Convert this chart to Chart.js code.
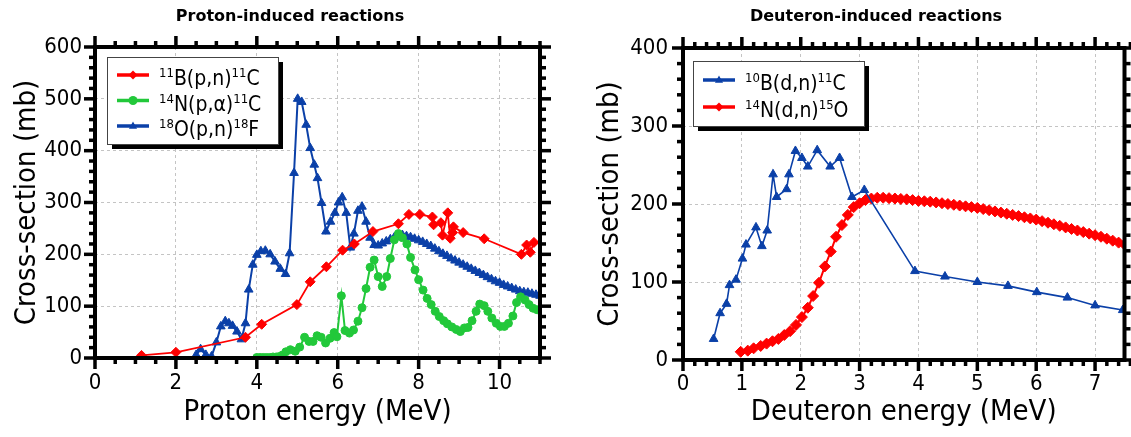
<!DOCTYPE html>
<html>
<head>
<meta charset="utf-8">
<script src="https://cdn.jsdelivr.net/npm/chart.js@4/dist/chart.umd.min.js"></script>
<style>
  body { margin: 0; background: #fff; }
  #wrap { position: relative; width: 1131px; height: 437px; overflow: hidden; }
  canvas { position: absolute; top: 0; }
  #protonChart { left: 0; }
  #deuteronChart { left: 566px; }
</style>
</head>
<body>
<div id="wrap">
  <canvas id="protonChart" width="566" height="437"></canvas>
  <canvas id="deuteronChart" width="565" height="437"></canvas>
</div>
<script>
// ---- proton-induced reactions (energy in MeV, cross-section in mb) ----
var bpnEnergy = [1.15, 2.0, 3.72, 4.12, 4.99, 5.32, 5.72, 6.12, 6.41, 6.87, 7.5, 7.76, 8.03, 8.34, 8.37, 8.55, 8.59, 8.72, 8.78, 8.84, 8.86, 9.1, 9.62, 10.54, 10.67, 10.76, 10.85, 11.05];
var bpnXs = [5, 11, 40, 65, 103, 147, 176, 208, 220, 244, 259, 277, 277, 272, 257, 261, 237, 280, 231, 242, 253, 242, 230, 200, 218, 204, 223, 223];

var npaEnergy = [4.0, 4.08, 4.16, 4.24, 4.32, 4.4, 4.48, 4.56, 4.64, 4.72, 4.83, 4.95, 5.06, 5.18, 5.29, 5.39, 5.49, 5.59, 5.7, 5.81, 5.91, 5.98, 6.09, 6.18, 6.29, 6.39, 6.5, 6.6, 6.7, 6.8, 6.9, 7.0, 7.1, 7.21, 7.3, 7.4, 7.5, 7.6, 7.71, 7.8, 7.91, 8.0, 8.11, 8.21, 8.31, 8.41, 8.51, 8.62, 8.71, 8.82, 8.93, 9.03, 9.13, 9.22, 9.32, 9.42, 9.51, 9.62, 9.71, 9.81, 9.92, 10.02, 10.12, 10.22, 10.33, 10.42, 10.52, 10.63, 10.73, 10.83, 10.93, 11.03];
var npaXs = [1, 1, 1, 1, 1, 2, 2, 3, 6, 12, 16, 13, 21, 40, 32, 32, 43, 40, 29, 38, 49, 41, 120, 53, 48, 54, 71, 97, 134, 175, 189, 157, 138, 157, 192, 228, 240, 232, 220, 194, 170, 151, 131, 115, 103, 90, 80, 72, 66, 60, 55, 51, 58, 59, 72, 90, 104, 101, 90, 77, 67, 61, 61, 67, 81, 107, 118, 112, 103, 96, 93, 93];

var opnEnergy = [2.5, 2.61, 2.74, 2.88, 3.0, 3.11, 3.22, 3.31, 3.4, 3.51, 3.62, 3.72, 3.8, 3.9, 4.0, 4.1, 4.21, 4.33, 4.45, 4.58, 4.71, 4.81, 4.92, 5.01, 5.11, 5.22, 5.32, 5.42, 5.5, 5.6, 5.71, 5.82, 5.93, 6.02, 6.11, 6.21, 6.31, 6.4, 6.5, 6.6, 6.7, 6.8, 6.9,
  7.0, 7.1, 7.2, 7.3, 7.4, 7.5, 7.6, 7.7, 7.8, 7.9, 8.0, 8.1, 8.2, 8.3, 8.4, 8.5, 8.6, 8.7, 8.8, 8.9, 9.0, 9.1, 9.2, 9.3, 9.4, 9.5, 9.6, 9.7, 9.8, 9.9, 10.0, 10.1, 10.2, 10.3, 10.4, 10.5, 10.6, 10.7, 10.8, 10.9, 11.0];
var opnXs = [6, 17, 6, 3, 30, 61, 71, 67, 62, 51, 36, 67, 132, 180, 199, 206, 207, 200, 186, 172, 162, 202, 357, 500, 494, 450, 405, 373, 347, 299, 244, 263, 280, 300, 310, 280, 213, 240, 284, 292, 263, 232, 218,
  217, 221, 225, 229, 233, 236, 237, 235, 233, 230, 227, 224, 220, 216, 211, 206, 201, 197, 192, 188, 184, 180, 176, 172, 168, 164, 160, 156, 152, 148, 145, 141, 138, 135, 132, 129, 127, 126, 124, 122, 120];

// ---- deuteron-induced reactions ----
var bdnEnergy = [0.52, 0.63, 0.74, 0.79, 0.9, 1.01, 1.07, 1.24, 1.34, 1.43, 1.53, 1.59, 1.76, 1.8, 1.91, 2.02, 2.12, 2.28, 2.5, 2.66, 2.87, 3.08, 3.94, 4.45, 5.0, 5.52, 6.01, 6.53, 7.0, 7.47];
var bdnXs = [27, 60, 72, 96, 103, 130, 148, 170, 146, 166, 238, 209, 219, 238, 268, 259, 248, 269, 248, 259, 209, 218, 114, 107, 100, 95, 87, 80, 70, 64];

var ndnEnergy = [0.98, 1.1, 1.2, 1.32, 1.42, 1.52, 1.62, 1.72, 1.82, 1.92, 2.02, 2.12, 2.21, 2.31, 2.41, 2.51, 2.6, 2.7, 2.8, 2.9, 3.0, 3.1, 3.2, 3.3,
  3.4, 3.5, 3.6, 3.7, 3.8, 3.9, 4.0, 4.1, 4.2, 4.3, 4.4, 4.5, 4.6, 4.7, 4.8, 4.9, 5.0, 5.1, 5.2, 5.3, 5.4, 5.5, 5.6, 5.7, 5.8, 5.9, 6.0, 6.1, 6.2, 6.3, 6.4, 6.5, 6.6, 6.7, 6.8, 6.9, 7.0, 7.1, 7.2, 7.3, 7.4, 7.5];
var ndnXs = [10.5, 12, 15, 18, 21, 24, 27, 32, 37, 45, 55, 67, 82, 99, 120, 139, 158, 173, 186, 196, 201, 205, 207, 208,
  208, 207.5, 207, 206.5, 206, 205, 204, 203.5, 203, 202, 201, 200, 199, 198, 197, 196, 195, 193.5, 192, 190.5, 189, 187.5, 186, 184.5, 183, 181.5, 180, 178, 176, 174, 172, 170, 168, 166, 164, 162, 160, 158, 155.5, 153, 150.5, 148];

const FONT = '"DejaVu Sans Condensed", "DejaVu Sans", sans-serif';
const RED = '#ff0000';
const GREEN = '#22c83a';
const BLUE = '#0b40a8';

function pairs(xs, ys) {
    return xs.map((x, i) => ({ x: x, y: ys[i] }));
}

function series(label, xs, ys, color, style, radius, width) {
    return {
        label: label,
        data: pairs(xs, ys),
        showLine: true,
        borderColor: color,
        backgroundColor: color,
        borderWidth: width,
        pointStyle: style,
        pointRadius: radius,
        pointBorderWidth: 1,
        tension: 0
    };
}

// draws '^{11}B(p,n)^{11}C' style labels with raised mass numbers
function drawRichLabel(ctx, text, x, y, size) {
    const parts = text.split(/(\^\{[^}]*\})/).filter(Boolean);
    parts.forEach(p => {
        if (p[0] === '^') {
            const s = p.slice(2, -1);
            ctx.font = Math.round(size * 0.62) + 'px ' + FONT;
            ctx.fillText(s, x, y - size * 0.36);
            x += ctx.measureText(s).width;
        } else {
            ctx.font = size + 'px ' + FONT;
            ctx.fillText(p, x, y);
            x += ctx.measureText(p).width;
        }
    });
}

function drawMarker(ctx, style, x, y, r) {
    ctx.beginPath();
    if (style === 'rectRot') {
        ctx.moveTo(x, y - r); ctx.lineTo(x + r, y); ctx.lineTo(x, y + r); ctx.lineTo(x - r, y);
    } else if (style === 'triangle') {
        ctx.moveTo(x, y - r); ctx.lineTo(x + r * 0.9, y + r * 0.6); ctx.lineTo(x - r * 0.9, y + r * 0.6);
    } else {
        ctx.arc(x, y, r, 0, Math.PI * 2);
    }
    ctx.closePath();
    ctx.fill();
}

// thick frame with outward ticks on all four sides, title and boxed legend
const framePlugin = {
    id: 'frame',
    afterDraw(chart, args, opts) {
        const ctx = chart.ctx;
        const a = chart.chartArea;
        const xs = chart.scales.x, ys = chart.scales.y;
        ctx.save();
        ctx.fillStyle = '#000';

        const ticks = (scale, step, major, horizontal) => {
            const n = Math.round((scale.max - scale.min) / step);
            for (let i = 0; i <= n; i++) {
                const v = scale.min + i * step;
                const isMajor = Math.abs(v / major - Math.round(v / major)) < 1e-6;
                const len = isMajor ? 11 : 6;
                const w = 3.5;
                const p = scale.getPixelForValue(v);
                if (horizontal) {
                    ctx.fillRect(p - w / 2, a.bottom, w, len);
                    ctx.fillRect(p - w / 2, a.top - len, w, len);
                } else {
                    ctx.fillRect(a.left - len, p - w / 2, len, w);
                    ctx.fillRect(a.right, p - w / 2, len, w);
                }
            }
        };
        ticks(xs, opts.xMinor, opts.xMajor, true);
        ticks(ys, opts.yMinor, opts.yMajor, false);

        ctx.strokeStyle = '#000';
        ctx.lineWidth = 4;
        ctx.strokeRect(a.left, a.top, a.right - a.left, a.bottom - a.top);

        // title
        ctx.font = 'bold 16px "DejaVu Sans", sans-serif';
        ctx.textAlign = 'center';
        ctx.textBaseline = 'middle';
        ctx.fillText(opts.title, opts.titleX, opts.titleY);

        // legend with drop shadow
        const L = opts.legend;
        ctx.fillStyle = '#000';
        ctx.fillRect(L.x + 5, L.y + 5, L.w, L.h);
        ctx.fillStyle = '#fff';
        ctx.fillRect(L.x, L.y, L.w, L.h);
        ctx.strokeStyle = '#444';
        ctx.lineWidth = 1;
        ctx.strokeRect(L.x + 0.5, L.y + 0.5, L.w, L.h);
        ctx.textAlign = 'left';
        ctx.textBaseline = 'alphabetic';
        chart.data.datasets.forEach((ds, i) => {
            const ry = L.y + L.firstRow + i * L.rowGap;
            ctx.strokeStyle = ds.borderColor;
            ctx.lineWidth = 3.5;
            ctx.beginPath();
            ctx.moveTo(L.x + 10, ry);
            ctx.lineTo(L.x + 42, ry);
            ctx.stroke();
            ctx.fillStyle = ds.borderColor;
            drawMarker(ctx, ds.pointStyle, L.x + 26, ry, 4.5);
            ctx.fillStyle = '#000';
            drawRichLabel(ctx, ds.label, L.x + 52, ry + 10, 21);
        });
        ctx.restore();
    }
};

function makeOptions(cfg) {
    return {
        responsive: false,
        animation: false,
        devicePixelRatio: 1,
        layout: { padding: { top: cfg.top, right: cfg.right, left: 0, bottom: 0 } },
        plugins: {
            legend: { display: false },
            tooltip: { enabled: false },
            frame: cfg.frame
        },
        scales: {
            x: {
                type: 'linear',
                min: 0,
                max: cfg.xMax,
                afterFit: s => { s.height = cfg.xAxisH; },
                ticks: { stepSize: cfg.frame.xMajor, includeBounds: false, padding: cfg.xPad, color: '#000', font: { family: FONT, size: 22 } },
                grid: { color: '#c4c4c4', drawTicks: false },
                border: { display: false, dash: [3, 3] },
                title: { display: true, text: cfg.xTitle, color: '#000', font: { family: FONT, size: 29 }, padding: { top: 0, bottom: 7 } }
            },
            y: {
                type: 'linear',
                min: 0,
                max: cfg.yMax,
                afterFit: s => { s.width = cfg.yAxisW; },
                ticks: { stepSize: cfg.frame.yMajor, includeBounds: false, padding: cfg.yPad, color: '#000', font: { family: FONT, size: 22 } },
                grid: { color: '#c4c4c4', drawTicks: false },
                border: { display: false, dash: [3, 3] },
                title: { display: true, text: 'Cross-section (mb)', color: '#000', font: { family: FONT, size: 29 }, padding: { top: cfg.yTitlePad, bottom: 0 } }
            }
        }
    };
}

new Chart(document.getElementById('protonChart'), {
    type: 'scatter',
    data: {
        datasets: [
            series('^{11}B(p,n)^{11}C', bpnEnergy, bpnXs, RED, 'rectRot', 5, 1.8),
            series('^{14}N(p,\u03b1)^{11}C', npaEnergy, npaXs, GREEN, 'circle', 4, 2),
            series('^{18}O(p,n)^{18}F', opnEnergy, opnXs, BLUE, 'triangle', 5, 2)
        ]
    },
    options: makeOptions({
        top: 47, right: 26, xMax: 11, yMax: 600, xAxisH: 79, yAxisW: 95,
        xPad: 12, yPad: 13, yTitlePad: 10,
        xTitle: 'Proton energy (MeV)',
        frame: {
            xMajor: 2, xMinor: 0.5, yMajor: 100, yMinor: 20,
            title: 'Proton-induced reactions', titleX: 290, titleY: 17,
            legend: { x: 107, y: 57, w: 171, h: 87, firstRow: 18, rowGap: 25.5 }
        }
    }),
    plugins: [framePlugin]
});

new Chart(document.getElementById('deuteronChart'), {
    type: 'scatter',
    data: {
        datasets: [
            series('^{10}B(d,n)^{11}C', bdnEnergy, bdnXs, BLUE, 'triangle', 5, 1.6),
            series('^{14}N(d,n)^{15}O', ndnEnergy, ndnXs, RED, 'rectRot', 5.5, 2)
        ]
    },
    options: makeOptions({
        top: 48, right: 4, xMax: 7.5, yMax: 400, xAxisH: 77, yAxisW: 117,
        xPad: 11, yPad: 15, yTitlePad: 27,
        xTitle: 'Deuteron energy (MeV)',
        frame: {
            xMajor: 1, xMinor: 0.2, yMajor: 100, yMinor: 20,
            title: 'Deuteron-induced reactions', titleX: 310, titleY: 17,
            legend: { x: 127, y: 61, w: 171, h: 65, firstRow: 19, rowGap: 27 }
        }
    }),
    plugins: [framePlugin]
});
</script>
</body>
</html>
